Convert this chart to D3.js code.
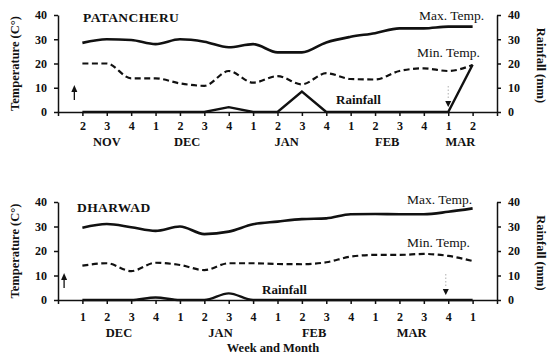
<!DOCTYPE html>
<html>
<head>
<meta charset="utf-8">
<script src="https://cdn.jsdelivr.net/npm/d3@7/dist/d3.min.js"></script>
<style>
  html, body { margin: 0; padding: 0; background: #fff; }
  svg { display: block; }
  text { font-family: "Liberation Serif", "DejaVu Serif", serif; fill: #111; }
</style>
</head>
<body>
<svg id="chart" width="550" height="355"></svg>
<script>
// Patancheru: weekly weather, Nov wk2 – Mar wk2
const patWeeks = ["2","3","4","1","2","3","4","1","2","3","4","1","2","3","4","1","2"];
const patMonthNames = ["NOV","DEC","JAN","FEB","MAR"];
const patMonthLen = [3, 4, 4, 4, 2];
const patMax = [28.5, 30, 29.7, 28, 30, 29, 26.7, 28, 24.6, 24.6, 28.7, 31, 32.5, 34.5, 34.5, 35.2, 35.2];
const patMin = [20, 20, 13.9, 13.9, 11.8, 10.8, 16.9, 12.1, 14.8, 11.4, 16, 13.6, 13.4, 16.9, 18, 16.9, 19.4];
const patRain = [0, 0, 0, 0, 0, 0, 2, 0, 0, 8.4, 0, 0, 0, 0, 0, 0, 19.5];
const patSow = -0.33, patHarvest = 15;

// Dharwad: weekly weather, Dec wk1 – Apr wk1
const dhaWeeks = ["1","2","3","4","1","2","3","4","1","2","3","4","1","2","3","4","1"];
const dhaMonthNames = ["DEC","JAN","FEB","MAR",""];
const dhaMonthLen = [4, 4, 4, 4, 1];
const dhaMax = [29.5, 31, 29.7, 28.2, 30, 26.9, 27.9, 30.9, 32, 33, 33.3, 35, 35.1, 35, 35, 36, 37.4];
const dhaMin = [14, 15, 11.8, 15.2, 14.3, 12.2, 15, 15, 14.7, 14.6, 15.4, 17.7, 18.4, 18.4, 18.8, 18, 15.9];
const dhaRain = [0, 0, 0, 1, 0, 0, 2.7, 0, 0, 0, 0, 0, 0, 0, 0, 0, 0];
const dhaSow = -0.75, dhaHarvest = 14.9;

const tempTicks = [0, 10, 20, 30, 40];
const rainTicks = [0, 10, 20, 30, 40];

const svg = d3.select("#chart");
const left = 58, right = 497;

function panel(cfg) {
  const g = svg.append("g");
  const x = d3.scaleLinear().domain([-1, 17]).range([left, right]);
  const yT = d3.scaleLinear().domain([0, 40]).range([cfg.y0, cfg.y40]);
  const yR = d3.scaleLinear().domain([0, 40]).range([cfg.y0, cfg.y40]);

  const styleAxis = sel => {
    sel.selectAll("path, line").attr("stroke", "#111").attr("stroke-width", 1.5);
    sel.selectAll("text").attr("font-size", 12).attr("font-weight", "bold")
      .style("font-family", "'Liberation Serif', serif");
  };

  g.append("g").attr("transform", `translate(${left},0)`)
    .call(d3.axisLeft(yT).tickValues(tempTicks).tickSize(4).tickSizeOuter(0).tickPadding(7))
    .call(styleAxis);

  g.append("g").attr("transform", `translate(${right},0)`)
    .call(d3.axisRight(yR).tickValues(rainTicks).tickSize(4).tickSizeOuter(0).tickPadding(7))
    .call(styleAxis);

  const xa = g.append("g").attr("transform", `translate(0,${cfg.y0})`)
    .call(d3.axisBottom(x).tickValues(d3.range(cfg.weeks.length))
      .tickFormat(i => cfg.weeks[i]).tickSize(4).tickSizeOuter(4).tickPadding(cfg.tickPad))
    .call(styleAxis);

  // month names centred under their weeks
  let start = 0;
  cfg.monthNames.forEach((m, k) => {
    const n = cfg.monthLen[k];
    const c = start + (n - 1) / 2;
    g.append("text").attr("x", x(c) + (cfg.monthShift[k] || 0)).attr("y", cfg.y0 + cfg.monthDy)
      .attr("text-anchor", "middle").attr("font-size", 12.5).attr("font-weight", "bold").text(m);
    start += n;
  });

  const idx = d3.range(cfg.weeks.length);
  const smooth = d3.line().x(i => x(i)).curve(d3.curveMonotoneX);

  g.append("path").attr("fill", "none").attr("stroke", "#111").attr("stroke-width", 2.6)
    .attr("d", smooth.y(i => yT(cfg.max[i]))(idx));
  g.append("path").attr("fill", "none").attr("stroke", "#111").attr("stroke-width", 2.2)
    .attr("stroke-dasharray", "6,3.5")
    .attr("d", smooth.y(i => yT(cfg.min[i]))(idx));
  g.append("path").attr("fill", "none").attr("stroke", "#111").attr("stroke-width", 2.4)
    .attr("stroke-linejoin", "miter")
    .attr("d", d3.line().x(i => x(i)).y(i => yR(cfg.rain[i])).curve(cfg.rainCurve)(idx));

  // sowing (up arrow) and harvest (down arrow) markers
  const sx = x(cfg.sow);
  g.append("line").attr("x1", sx).attr("x2", sx).attr("y1", cfg.y0 - 12).attr("y2", cfg.y0 - 24)
    .attr("stroke", "#111").attr("stroke-width", 1.3);
  g.append("path").attr("fill", "#111")
    .attr("d", `M${sx - 3},${cfg.y0 - 20} L${sx},${cfg.y0 - 27} L${sx + 3},${cfg.y0 - 20} Z`);
  const hx = x(cfg.harvest);
  g.append("line").attr("x1", hx).attr("x2", hx).attr("y1", cfg.y0 - 26).attr("y2", cfg.y0 - 12)
    .attr("stroke", "#999").attr("stroke-width", 0.8).attr("stroke-dasharray", "1.5,2");
  g.append("path").attr("fill", "#111")
    .attr("d", `M${hx - 3},${cfg.y0 - 11} L${hx},${cfg.y0 - 5} L${hx + 3},${cfg.y0 - 11} Z`);

  // titles and series labels
  g.append("text").attr("x", cfg.title[0]).attr("y", cfg.title[1]).attr("font-size", 13.5)
    .attr("font-weight", "bold").attr("letter-spacing", 0.4).text(cfg.name);
  g.append("text").attr("x", cfg.maxLab[0]).attr("y", cfg.maxLab[1]).attr("font-size", 13.5).text("Max. Temp.");
  g.append("text").attr("x", cfg.minLab[0]).attr("y", cfg.minLab[1]).attr("font-size", 13.5).text("Min. Temp.");
  g.append("text").attr("x", cfg.rainLab[0]).attr("y", cfg.rainLab[1]).attr("font-size", 13)
    .attr("font-weight", "bold").text("Rainfall");

  const midY = (cfg.y0 + cfg.y40) / 2;
  g.append("text").attr("transform", `translate(19,${midY}) rotate(-90)`)
    .attr("text-anchor", "middle").attr("font-size", 12.5).attr("font-weight", "bold").text("Temperature (C°)");
  g.append("text").attr("transform", `translate(537,${midY + 2}) rotate(90)`)
    .attr("text-anchor", "middle").attr("font-size", 12.5).attr("font-weight", "bold").text("Rainfall (mm)");
}

panel({
  name: "PATANCHERU", y0: 112, y40: 15,
  weeks: patWeeks, monthNames: patMonthNames, monthLen: patMonthLen, monthShift: [0, -5, -3, 0, 0],
  max: patMax, min: patMin, rain: patRain, rainCurve: d3.curveLinear,
  sow: patSow, harvest: patHarvest, tickPad: 5, monthDy: 34,
  title: [83, 22], maxLab: [419, 20], minLab: [417, 57], rainLab: [336, 104]
});

panel({
  name: "DHARWAD", y0: 300, y40: 202,
  weeks: dhaWeeks, monthNames: dhaMonthNames, monthLen: dhaMonthLen, monthShift: [0, 4, 0, 0, 0],
  max: dhaMax, min: dhaMin, rain: dhaRain, rainCurve: d3.curveMonotoneX,
  sow: dhaSow, harvest: dhaHarvest, tickPad: 8, monthDy: 37,
  title: [77, 212], maxLab: [407, 204], minLab: [407, 247], rainLab: [262, 294]
});

svg.append("text").attr("x", 273).attr("y", 352).attr("text-anchor", "middle")
  .attr("font-size", 12.5).attr("font-weight", "bold").text("Week and Month");
</script>
</body>
</html>
